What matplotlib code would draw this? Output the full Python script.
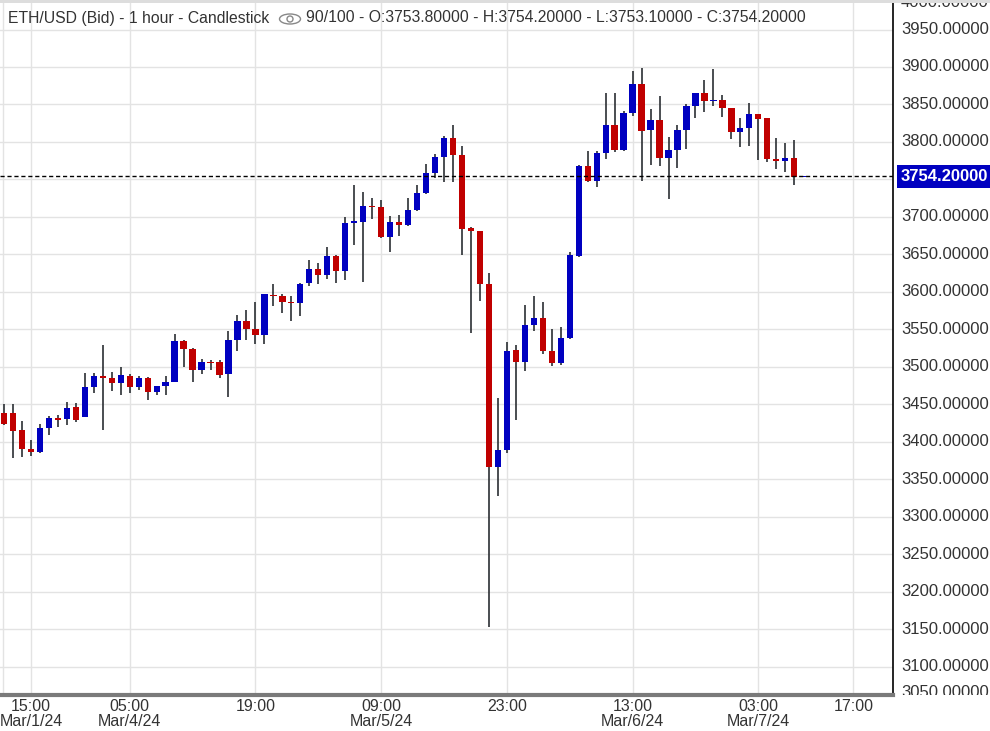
import matplotlib
matplotlib.use("Agg")
import matplotlib.pyplot as plt
from matplotlib.patches import Rectangle, Ellipse, Circle
import numpy as np

plt.rcParams['font.family'] = ['Liberation Sans', 'DejaVu Sans']

# hourly candles
opens = [3438, 3438, 3416, 3390, 3386, 3418, 3432, 3430, 3446, 3433,
         3473, 3488, 3485, 3478, 3488, 3473, 3485, 3466, 3474, 3480,
         3534, 3524, 3496, 3507, 3506, 3490, 3536, 3561, 3550, 3542,
         3596, 3594, 3587, 3585, 3612, 3630, 3622, 3648, 3628, 3692,
         3693, 3714, 3713, 3673, 3693, 3689, 3709, 3732, 3759, 3780,
         3805, 3783, 3685, 3681, 3610, 3366, 3389, 3522, 3506, 3556,
         3565, 3521, 3505, 3538, 3648, 3768, 3748, 3785, 3823, 3789,
         3839, 3877, 3816, 3829, 3779, 3789, 3816, 3848, 3865, 3855,
         3856, 3845, 3813, 3818, 3837, 3832, 3777, 3775, 3778, 3753.8]
highs = [3450, 3450, 3427, 3402, 3423, 3434, 3436, 3453, 3452, 3492,
         3492, 3529, 3493, 3500, 3490, 3488, 3486, 3474, 3488, 3544,
         3536, 3525, 3510, 3509, 3509, 3548, 3569, 3576, 3586, 3597,
         3610, 3597, 3594, 3612, 3642, 3638, 3660, 3649, 3700, 3742,
         3733, 3725, 3722, 3701, 3702, 3725, 3742, 3771, 3784, 3808,
         3823, 3795, 3686, 3681, 3625, 3458, 3533, 3529, 3582, 3594,
         3586, 3550, 3553, 3653, 3769, 3788, 3788, 3865, 3865, 3841,
         3895, 3899, 3844, 3861, 3807, 3823, 3851, 3865, 3883, 3897,
         3863, 3845, 3832, 3852, 3837, 3832, 3805, 3799, 3803, 3754.2]
lows = [3422, 3378, 3379, 3381, 3385, 3409, 3420, 3422, 3426, 3433,
        3465, 3416, 3467, 3462, 3465, 3469, 3456, 3462, 3462, 3480,
        3500, 3480, 3490, 3496, 3485, 3460, 3521, 3536, 3530, 3530,
        3581, 3572, 3561, 3568, 3608, 3610, 3617, 3612, 3616, 3662,
        3613, 3697, 3672, 3653, 3674, 3688, 3708, 3730, 3752, 3747,
        3747, 3649, 3545, 3588, 3153, 3327, 3385, 3429, 3494, 3548,
        3517, 3501, 3502, 3537, 3646, 3746, 3740, 3777, 3787, 3788,
        3835, 3748, 3769, 3768, 3724, 3765, 3791, 3832, 3840, 3848,
        3833, 3804, 3793, 3795, 3776, 3773, 3764, 3760, 3743, 3753.1]
closes = [3424, 3414, 3390, 3386, 3418, 3432, 3429, 3445, 3429, 3473,
          3488, 3485, 3478, 3489, 3473, 3485, 3466, 3474, 3480, 3534,
          3524, 3496, 3506, 3505, 3489, 3536, 3561, 3550, 3542, 3597,
          3594, 3586, 3585, 3610, 3630, 3622, 3648, 3628, 3692, 3694,
          3714, 3713, 3673, 3693, 3689, 3709, 3732, 3759, 3780, 3805,
          3783, 3684, 3681, 3610, 3366, 3389, 3521, 3506, 3556, 3565,
          3521, 3505, 3538, 3649, 3768, 3748, 3785, 3823, 3789, 3839,
          3877, 3815, 3829, 3779, 3789, 3816, 3848, 3865, 3855, 3856,
          3845, 3813, 3818, 3837, 3831, 3777, 3775, 3779, 3753.8, 3754.2]

tick_pos = [3, 14, 28, 42, 56, 70, 84, 94.6]
tick_labels = ["15:00\nMar/1/24", "05:00\nMar/4/24", "19:00", "09:00\nMar/5/24",
               "23:00", "13:00\nMar/6/24", "03:00\nMar/7/24", "17:00"]
price_ticks = list(range(3050, 4001, 50))
last_price = 3754.2

BLUE = "#0000c0"
RED = "#c00000"
WICK = "#2b2f33"

fig = plt.figure(figsize=(9.9, 7.31), dpi=100)
ax = fig.add_axes([0, 36 / 731, 893 / 990, 695 / 731])
ax.set_xlim(-0.445, 99.0)
ax.set_ylim(3062, 3989.4)

for p in price_ticks:
    ax.axhline(p, color="#e3e3e3", lw=1, zorder=0)
for t in tick_pos:
    ax.axvline(t, color="#e3e3e3", lw=1, zorder=0)
ax.axvline(-0.1, color="#e3e3e3", lw=1, zorder=0)

w = 0.7
for i in range(len(opens)):
    o, h, l, c = opens[i], highs[i], lows[i], closes[i]
    col = BLUE if c >= o else RED
    ax.vlines(i, l, h, color=WICK, lw=1.2, zorder=2)
    bot = min(o, c)
    hgt = max(abs(c - o), 1.3)
    ax.add_patch(Rectangle((i - w / 2, bot), w, hgt, facecolor=col,
                           edgecolor="none", zorder=3))

ax.axhline(last_price, color="black", lw=1, ls=(0, (3, 2)), zorder=4)

for s in ["top", "left"]:
    ax.spines[s].set_visible(False)
ax.spines["right"].set_color("black")
ax.spines["right"].set_linewidth(1.2)
ax.spines["bottom"].set_color("#7a7a7a")
ax.spines["bottom"].set_linewidth(3)
ax.set_yticks([])
ax.set_xticks(tick_pos)
ax.set_xticklabels(tick_labels, fontsize=11.5, color="#333333", linespacing=0.95)
ax.tick_params(axis="x", length=0, pad=3)

# price scale on the right, clipped to the plot height
clip = Rectangle((0, 36 / 731), 1, 695 / 731, transform=fig.transFigure)
tr = ax.get_yaxis_transform()
for p in price_ticks:
    if abs(p - last_price) < 25:
        continue
    yv = p
    if p == 4000:
        yv = 3986
    if p == 3050:
        yv = 3066
    t = ax.text(1.058, yv, f"{p:.5f}", transform=tr, ha="center", va="center",
                fontsize=12, color="#333333", clip_on=True)
    t.set_clip_path(clip)
ax.text(1.058, last_price, f"{last_price:.5f}", transform=tr, ha="center",
        va="center", fontsize=12, color="white", fontweight="bold", clip_on=False,
        zorder=5,
        bbox=dict(boxstyle="square,pad=0.25", facecolor=BLUE, edgecolor="none"))

# header
fig.text(8 / 990, 1 - 18 / 731, "ETH/USD (Bid) - 1 hour - Candlestick",
         fontsize=11.3, color="#333333", va="center")
fig.text(306 / 990, 1 - 18 / 731,
         "90/100 - O:3753.80000 - H:3754.20000 - L:3753.10000 - C:3754.20000",
         fontsize=11.3, color="#333333", va="center")
fax = fig.add_axes([0, 0, 1, 1], facecolor="none")
fax.set_xlim(0, 990)
fax.set_ylim(731, 0)
fax.axis("off")
fax.add_patch(Ellipse((290, 19), 21, 10, facecolor="none", edgecolor="#888888", lw=1))
fax.add_patch(Circle((290, 19), 3, facecolor="none", edgecolor="#888888", lw=1))
fax.add_patch(Rectangle((0, 0), 990, 3, facecolor="#dddddd", edgecolor="none"))

fig.savefig("out.png", dpi=100)
